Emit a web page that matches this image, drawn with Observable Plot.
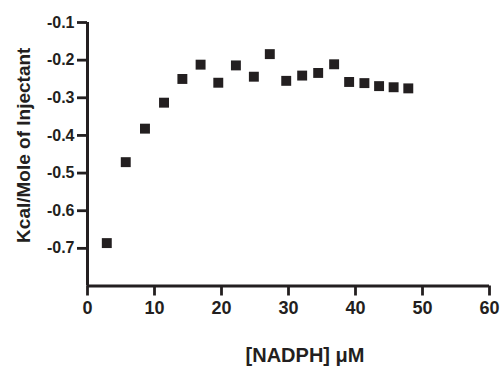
<!DOCTYPE html>
<html>
<head>
<meta charset="utf-8">
<script src="https://cdn.jsdelivr.net/npm/d3@7"></script>
<script src="https://cdn.jsdelivr.net/npm/@observablehq/plot@0.6"></script>
<style>
  html, body { margin: 0; padding: 0; background: #fff; }
  #chart svg { display: block; }
</style>
</head>
<body>
<div id="chart"></div>
<script>
const concentration = [2.88, 5.71, 8.58, 11.42, 14.16, 16.88, 19.52, 22.15, 24.83, 27.21, 29.66, 32.04, 34.43, 36.81, 39.05, 41.33, 43.52, 45.69, 47.88];
const heat = [-0.686, -0.471, -0.382, -0.313, -0.250, -0.212, -0.260, -0.214, -0.244, -0.184, -0.255, -0.241, -0.234, -0.211, -0.258, -0.261, -0.269, -0.272, -0.275];
const xTicks = [0, 10, 20, 30, 40, 50, 60];
const yTicks = [-0.7, -0.6, -0.5, -0.4, -0.3, -0.2, -0.1];
const xLabel = "[NADPH] μM";
const yLabel = "Kcal/Mole of Injectant";

const data = concentration.map((x, i) => ({x, y: heat[i]}));
const ink = "#231f20";
const font = "'Liberation Sans', Arial, Helvetica, sans-serif";

const chart = Plot.plot({
  width: 502,
  height: 367,
  marginLeft: 87,
  marginRight: 13,
  marginTop: 22,
  marginBottom: 81.5,
  style: {background: "#fff", fontFamily: font, color: ink, overflow: "visible"},
  x: {domain: [0, 60]},
  y: {domain: [-0.8, -0.1]},
  marks: [
    Plot.ruleY([-0.8], {x1: 0, x2: 60, stroke: ink, strokeWidth: 3}),
    Plot.ruleX([0], {y1: -0.8, y2: -0.1, stroke: ink, strokeWidth: 3}),
    Plot.axisX({ticks: xTicks, tickSize: 10, tickPadding: 5, strokeWidth: 2.8, stroke: ink, fill: ink,
      fontSize: 18, fontWeight: "bold", label: null, tickFormat: d => String(d)}),
    Plot.axisY({ticks: yTicks, tickSize: 10, tickPadding: 3, strokeWidth: 2.8, stroke: ink, fill: ink,
      fontSize: 16, fontWeight: "bold", label: null, tickFormat: d => d.toFixed(1).replace("\u2212", "-")}),
    Plot.dot(data, {x: "x", y: "y", symbol: "square", r: 5.6, fill: ink, stroke: null}),
    Plot.text([yLabel], {frameAnchor: "left", textAnchor: "middle", text: d => d, rotate: -90, dx: -63.5, dy: -9,
      fontSize: 19, fontWeight: "bold", fill: ink, lineAnchor: "middle"}),
    Plot.text([xLabel], {frameAnchor: "bottom", textAnchor: "middle", text: d => d, dx: 16.5, dy: 70,
      fontSize: 20, fontWeight: "bold", fill: ink, lineAnchor: "middle"})
  ]
});
document.getElementById("chart").appendChild(chart);
</script>
</body>
</html>
